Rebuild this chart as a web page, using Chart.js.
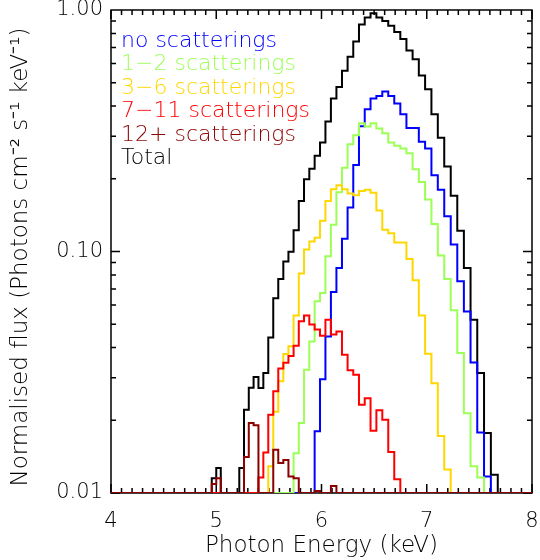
<!DOCTYPE html>
<html>
<head>
<meta charset="utf-8">
<script src="https://cdn.jsdelivr.net/npm/chart.js@4.4.1/dist/chart.umd.min.js"></script>
<style>
  html, body { margin: 0; padding: 0; background: #fff; }
  canvas { display: block; }
</style>
</head>
<body>
<canvas id="myChart" width="540" height="560"></canvas>
<script>
const energyEdges = [
  4.9573, 5.0000, 5.0430, 5.0864, 5.1302, 5.1744, 5.2189, 5.2638, 5.3091, 5.3548,
  5.4009, 5.4474, 5.4943, 5.5416, 5.5892, 5.6373, 5.6859, 5.7348, 5.7842, 5.8339,
  5.8842, 5.9348, 5.9859, 6.0374, 6.0894, 6.1418, 6.1946, 6.2479, 6.3017, 6.3560,
  6.4107, 6.4659, 6.5215, 6.5777, 6.6342, 6.6913, 6.7489, 6.8070, 6.8656, 6.9247,
  6.9843, 7.0444, 7.1050, 7.1662, 7.2279, 7.2901, 7.3528, 7.4161, 7.4799, 7.5443,
  7.6092, 7.6747, 7.7408
];

// flux per bin (0 = below the plotted range)
const noScatter = [
  0, 0, 0, 0, 0, 0, 0, 0, 0, 0,
  0, 0, 0, 0, 0, 0, 0, 0, 0, 0,
  0, 0.018, 0.0296, 0.0445, 0.068, 0.0855, 0.113, 0.152, 0.228, 0.33,
  0.388, 0.43, 0.44, 0.46, 0.44, 0.41, 0.37, 0.325, 0.325, 0.285,
  0.267, 0.207, 0.18, 0.14, 0.107, 0.0753, 0.0565, 0.0347, 0.0178, 0.0117,
  0, 0
];
const scatter1to2 = [
  0, 0, 0, 0, 0, 0, 0, 0, 0, 0,
  0, 0, 0, 0, 0, 0, 0, 0.0146, 0.0195, 0.0324,
  0.0424, 0.0622, 0.0674, 0.0956, 0.129, 0.176, 0.222, 0.278, 0.303, 0.34,
  0.329, 0.34, 0.323, 0.309, 0.283, 0.274, 0.267, 0.255, 0.219, 0.194,
  0.164, 0.13, 0.0963, 0.077, 0.0571, 0.038, 0.0214, 0.0129, 0.0116, 0,
  0, 0
];
const scatter3to6 = [
  0, 0, 0, 0, 0, 0, 0, 0, 0, 0,
  0, 0, 0.0129, 0.0217, 0.029, 0.0376, 0.0405, 0.0543, 0.081, 0.102,
  0.11, 0.114, 0.134, 0.162, 0.181, 0.188, 0.181, 0.174, 0.171, 0.178,
  0.18, 0.175, 0.148, 0.123, 0.119, 0.109, 0.109, 0.093, 0.076, 0.0543,
  0.0377, 0.0285, 0.0172, 0.0125, 0, 0, 0, 0, 0, 0,
  0, 0
];
const scatter7to11 = [
  0, 0, 0, 0, 0, 0, 0, 0, 0, 0,
  0.0116, 0.0147, 0.0211, 0.0264, 0.0328, 0.0346, 0.0369, 0.0407, 0.0514, 0.0543,
  0.0498, 0.0475, 0.0448, 0.0522, 0.0453, 0.0466, 0.0374, 0.0322, 0.0309, 0.0232,
  0.0247, 0.0181, 0.022, 0.0201, 0.0148, 0.0114, 0, 0, 0, 0,
  0, 0, 0, 0, 0, 0, 0, 0, 0, 0,
  0, 0
];
const scatter12plus = [
  0.0109, 0.0115, 0, 0, 0, 0, 0, 0.0141, 0.0195, 0.0191,
  0, 0, 0, 0.0151, 0.0133, 0.0137, 0.0117, 0.0115, 0, 0,
  0, 0.0102, 0, 0, 0.0107, 0, 0, 0, 0, 0,
  0, 0, 0, 0, 0, 0, 0, 0, 0, 0,
  0, 0, 0, 0, 0, 0, 0, 0, 0, 0,
  0, 0
];
const total = [
  0.0115, 0.0127, 0, 0, 0, 0, 0.0127, 0.0221, 0.0273, 0.0302,
  0.0272, 0.0314, 0.044, 0.064, 0.077, 0.091, 0.0997, 0.1225, 0.162, 0.199,
  0.22, 0.249, 0.283, 0.345, 0.43, 0.48, 0.56, 0.64, 0.74, 0.87,
  0.93, 0.97, 0.93, 0.9, 0.86, 0.81, 0.758, 0.68, 0.626, 0.535,
  0.47, 0.37, 0.296, 0.225, 0.17, 0.122, 0.0855, 0.0522, 0.0314, 0.0177,
  0.0119, 0
];

const xTickValues = [4, 5, 6, 7, 8];
const yTickValues = [0.01, 0.1, 1];
const X_MIN = 4, X_MAX = 8, Y_MIN = 0.01, Y_MAX = 1;

const FONT = "'DejaVu Sans', sans-serif";
const WEIGHT = "200";
const Y_TITLE = "Normalised flux (Photons cm\u207B\u00B2 s\u207B\u00B9 keV\u207B\u00B9)";

const series = [
  { label: "no scatterings", data: noScatter, color: "#0000ff", order: 4 },
  { label: "1\u22122 scatterings", data: scatter1to2, color: "#9cff55", order: 3 },
  { label: "3\u22126 scatterings", data: scatter3to6, color: "#ffd700", order: 2 },
  { label: "7\u221211 scatterings", data: scatter7to11, color: "#ff0000", order: 1 },
  { label: "12+ scatterings", data: scatter12plus, color: "#8b0000", order: 0 },
  { label: "Total", data: total, color: "#000000", order: 5 },
];

// histogram points: value of bin i holds from edge i to edge i+1
function toSteps(values) {
  const pts = [{ x: X_MIN, y: Y_MIN }];
  values.forEach((v, i) => pts.push({ x: energyEdges[i], y: v > Y_MIN ? v : Y_MIN }));
  pts.push({ x: energyEdges[values.length], y: Y_MIN });
  pts.push({ x: X_MAX, y: Y_MIN });
  return pts;
}

// box with inward ticks on all four sides
const frameTicks = {
  id: "frameTicks",
  beforeDatasetsDraw(chart) {
    const { ctx, chartArea: a, scales: { x, y } } = chart;
    ctx.save();
    ctx.strokeStyle = "#000";
    ctx.lineWidth = 1.5;
    ctx.strokeRect(a.left, a.top, a.right - a.left, a.bottom - a.top);
    ctx.beginPath();
    for (let i = 0; i <= 40; i++) {
      const px = x.getPixelForValue(X_MIN + i / 10);
      const len = i % 10 === 0 ? 9 : 5;
      ctx.moveTo(px, a.bottom); ctx.lineTo(px, a.bottom - len);
      ctx.moveTo(px, a.top); ctx.lineTo(px, a.top + len);
    }
    [0.01, 0.1].forEach((d) => {
      for (let m = 1; m <= 9; m++) {
        const py = y.getPixelForValue(d * m);
        const len = m === 1 ? 9 : 5;
        ctx.moveTo(a.left, py); ctx.lineTo(a.left + len, py);
        ctx.moveTo(a.right, py); ctx.lineTo(a.right - len, py);
      }
    });
    ctx.stroke();
    ctx.restore();
  },
};

// coloured text key in the top left corner, plus the rotated y title
const textKey = {
  id: "textKey",
  afterDraw(chart) {
    const { ctx, chartArea: a } = chart;
    ctx.save();
    ctx.font = WEIGHT + " 22px " + FONT;
    ctx.textAlign = "left";
    ctx.textBaseline = "alphabetic";
    series.forEach((s, i) => {
      ctx.fillStyle = s.color;
      ctx.fillText(s.label, a.left + 10, a.top + 37 + i * 23.4);
    });
    ctx.font = WEIGHT + " 23px " + FONT;
    ctx.fillStyle = "#000";
    ctx.textAlign = "center";
    ctx.textBaseline = "middle";
    ctx.translate(21, 257);
    ctx.rotate(-Math.PI / 2);
    ctx.fillText(Y_TITLE, 0, 0);
    ctx.restore();
  },
};

new Chart(document.getElementById("myChart").getContext("2d"), {
  type: "line",
  data: {
    datasets: series.map((s) => ({
      label: s.label,
      data: toSteps(s.data),
      borderColor: s.color,
      borderWidth: 2,
      pointRadius: 0,
      stepped: "before",
      fill: false,
      order: s.order,
    })),
  },
  options: {
    responsive: false,
    animation: false,
    events: [],
    layout: { padding: { top: 10, right: 8, left: 0, bottom: 0 } },
    plugins: { legend: { display: false }, tooltip: { enabled: false } },
    scales: {
      x: {
        type: "linear",
        min: X_MIN,
        max: X_MAX,
        grid: { display: false, drawTicks: false },
        border: { display: false },
        afterBuildTicks: (s) => { s.ticks = xTickValues.map((v) => ({ value: v })); },
        afterFit: (s) => { s.height = 67; s.paddingLeft = 0; s.paddingRight = 0; },
        ticks: { color: "#000", font: { family: FONT, size: 21, weight: WEIGHT }, padding: 16, maxRotation: 0 },
        title: {
          display: true,
          text: "Photon Energy (keV)",
          color: "#000",
          font: { family: FONT, size: 23, weight: WEIGHT },
          padding: { top: 0, bottom: 0 },
        },
      },
      y: {
        type: "logarithmic",
        min: Y_MIN,
        max: Y_MAX,
        grid: { display: false, drawTicks: false },
        border: { display: false },
        afterBuildTicks: (s) => { s.ticks = yTickValues.map((v) => ({ value: v })); },
        afterFit: (s) => { s.width = 111; s.paddingTop = 0; s.paddingBottom = 0; },
        ticks: {
          color: "#000",
          font: { family: FONT, size: 21, weight: WEIGHT },
          padding: 8,
          callback: (v) => Number(v).toFixed(2),
        },
        title: { display: false },
      },
    },
  },
  plugins: [frameTicks, textKey],
});
</script>
</body>
</html>
